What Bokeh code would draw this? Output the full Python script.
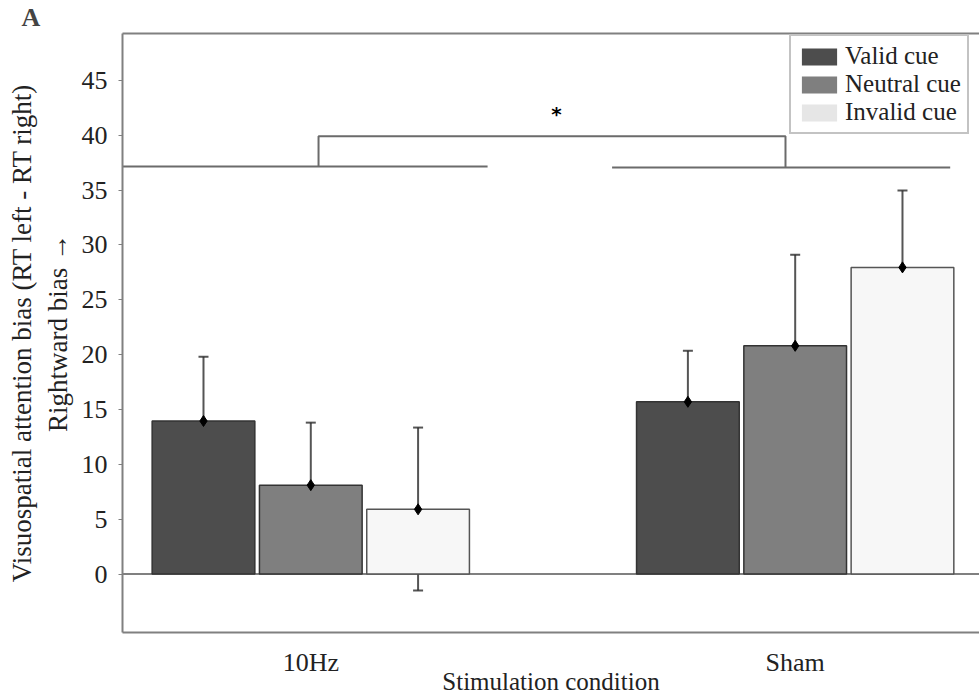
from bokeh.plotting import figure
from bokeh.models import (Range1d, FixedTicker, Whisker, TeeHead, ColumnDataSource,
                          Legend, LegendItem, Span, LinearAxis)
from bokeh.core.properties import value
from bokeh.embed import file_html
from bokeh.resources import INLINE

# ---------------- data ----------------
conditions = ["10Hz", "Sham"]
cues = ["Valid cue", "Neutral cue", "Invalid cue"]
valid_mean = [13.95, 15.7]
neutral_mean = [8.1, 20.8]
invalid_mean = [5.9, 27.95]
valid_lo = [8.0, 11.0]
valid_hi = [19.8, 20.35]
neutral_lo = [2.5, 12.5]
neutral_hi = [13.8, 29.1]
invalid_lo = [-1.5, 21.05]
invalid_hi = [13.35, 34.95]
y_ticks = [0, 5, 10, 15, 20, 25, 30, 35, 40, 45]
sig_label = "*"

# ---------------- style ----------------
FONT = "Liberation Serif"
GRAY = "#808080"
bar_colors = ["#4d4d4d", "#7f7f7f", "#f7f7f7"]
legend_colors = ["#4d4d4d", "#7f7f7f", "#e6e6e6"]
bar_edges = ["#333333", "#333333", "#555555"]
offsets = [-0.2215, 0.0, 0.2215]
bar_width = 0.212
NAN = float("nan")

p = figure(width=979, height=698, output_backend="svg", toolbar_location=None,
           x_range=Range1d(-0.3887, 1.3805), y_range=Range1d(-5.33, 49.27),
           min_border_left=122, min_border_right=0, min_border_top=33,
           min_border_bottom=66)
p.grid.visible = False
p.outline_line_color = None
p.background_fill_color = "white"

p.title.text = "A"
p.title.text_font = FONT
p.title.text_font_size = "26px"
p.title.text_font_style = "bold"
p.title.align = "left"
p.title.vertical_align = "top"
p.title.offset = -101
p.title.standoff = 0

# y axis
ya = p.yaxis[0]
ya.ticker = FixedTicker(ticks=y_ticks)
ya.major_tick_in = 0
ya.major_tick_out = 4
ya.minor_tick_out = 0
ya.minor_tick_in = 0
ya.axis_line_color = GRAY
ya.axis_line_width = 2
ya.major_tick_line_color = GRAY
ya.major_label_text_font = FONT
ya.major_label_text_font_size = "26px"
ya.major_label_text_color = "#222222"
ya.major_label_standoff = 11
ya.axis_label = "Visuospatial attention bias (RT left - RT right)\nRightward bias \u2192"
ya.axis_label_text_font = FONT
ya.axis_label_text_font_size = "27px"
ya.axis_label_text_font_style = "normal"
ya.axis_label_text_color = "#222222"
ya.axis_label_standoff = 6

# x axis
xa = p.xaxis[0]
xa.ticker = FixedTicker(ticks=list(range(len(conditions))))
xa.major_label_overrides = {i: c for i, c in enumerate(conditions)}
xa.major_tick_in = 0
xa.major_tick_out = 0
xa.minor_tick_in = 0
xa.minor_tick_out = 0
xa.axis_line_color = GRAY
xa.axis_line_width = 2
xa.major_label_text_font = FONT
xa.major_label_text_font_size = "26px"
xa.major_label_text_color = "#222222"
xa.major_label_standoff = 15
xa.axis_label = "Stimulation condition"
xa.axis_label_text_font = FONT
xa.axis_label_text_font_size = "25px"
xa.axis_label_text_font_style = "normal"
xa.axis_label_text_color = "#222222"
xa.axis_label_standoff = -12

top_axis = LinearAxis(ticker=FixedTicker(ticks=[]), major_tick_out=0, major_tick_in=0,
                      minor_tick_out=0, minor_tick_in=0, axis_line_color=GRAY,
                      axis_line_width=2, major_label_text_font_size="0px")
p.add_layout(top_axis, "above")

# zero line
p.add_layout(Span(location=0, dimension="width", line_color=GRAY, line_width=2, level="underlay"))

means = [valid_mean, neutral_mean, invalid_mean]
los = [valid_lo, neutral_lo, invalid_lo]
his = [valid_hi, neutral_hi, invalid_hi]

legend_items = []
for i, cue in enumerate(cues):
    xs = [g + offsets[i] for g in range(len(conditions))]
    src = ColumnDataSource(dict(x=xs, top=means[i], lo=los[i], hi=his[i]))
    p.vbar(x="x", top="top", bottom=0, width=bar_width, source=src,
           fill_color=bar_colors[i], line_color=bar_edges[i], line_width=1.5)
    w = Whisker(source=src, base="x", upper="hi", lower="lo",
                line_color="#2a2a2a", line_width=2, line_alpha=0.8,
                upper_head=TeeHead(size=10, line_color="#2a2a2a", line_width=2, line_alpha=0.8),
                lower_head=TeeHead(size=10, line_color="#2a2a2a", line_width=2, line_alpha=0.8))
    p.add_layout(w)
    p.scatter(x="x", y="top", source=src, marker="diamond", size=11,
              fill_color="black", line_color="black")
    # legend-only swatch renderer (draws nothing in the plot)
    dummy = p.vbar(x=[NAN], top=[NAN], width=0.1, fill_color=legend_colors[i], line_color=None)
    legend_items.append(LegendItem(label=cue, renderers=[dummy]))

# significance bracket (annotation)
BR = "#6b6b6b"
p.line([-0.3887, 0.365], [37.15, 37.15], line_color=BR, line_width=2)
p.line([0.622, 1.32], [37.05, 37.05], line_color=BR, line_width=2)
p.line([0.016, 0.016, 0.98, 0.98], [37.15, 39.9, 39.9, 37.05], line_color=BR, line_width=2)
p.text(x=[0.507], y=[41.9], text=[sig_label], text_font=value("DejaVu Sans"),
       text_font_size="20px", text_font_style="bold", text_align="center",
       text_baseline="middle", text_color="black")

legend = Legend(items=legend_items, location=(667, 498), orientation="vertical",
                border_line_color="#888888", border_line_width=2,
                padding=6, spacing=0, margin=0, glyph_width=44, glyph_height=21,
                label_standoff=4, label_text_font=FONT, label_text_font_size="25px",
                label_text_color="#222222", label_height=20,
                background_fill_color="white", background_fill_alpha=1.0)
p.add_layout(legend)

open("out.html", "w").write(file_html(p, INLINE))
